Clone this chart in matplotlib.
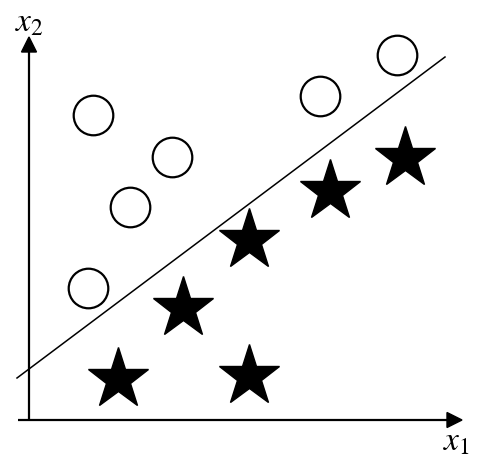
import matplotlib
matplotlib.use("Agg")
import matplotlib.pyplot as plt

# points, in pixel-like units measured from the axes origin
circle_x = [64, 143, 101, 59, 291, 368]
circle_y = [305, 263, 213, 132, 324, 365]
star_x = [89, 220, 154, 220, 301, 376]
star_y = [41, 44, 112, 180, 229, 262]

# separating line y = slope * x + intercept
slope = 0.75
intercept = 51
line_x = [-12, 416]

plt.rcParams['mathtext.fontset'] = 'stix'

fig = plt.figure(figsize=(4.78, 4.59), dpi=100)
ax = fig.add_axes([0, 0, 1, 1])
ax.set_xlim(-29, 449)
ax.set_ylim(-39, 420)
ax.axis('off')

# axes with arrow heads
ax.plot([-11, 420], [0, 0], color='black', lw=1.6, solid_capstyle='butt')
ax.plot([0, 0], [0, 370], color='black', lw=1.6, solid_capstyle='butt')
ax.arrow(418, 0, 15, 0, width=0.1, head_width=15, head_length=15,
         length_includes_head=True, color='black')
ax.arrow(0, 368, 0, 15, width=0.1, head_width=15, head_length=15,
         length_includes_head=True, color='black')

ax.plot(line_x, [slope * x + intercept for x in line_x], color='black', lw=1.1)

ax.plot(circle_x, circle_y, 'o', ms=28.5, mfc='white', mec='black', mew=1.6)
ax.plot(star_x, star_y, '*', ms=46, color='black')

ax.text(0, 398, '$x_2$', fontsize=24, ha='center', va='center')
ax.text(427, -21, '$x_1$', fontsize=24, ha='center', va='center')

fig.savefig('out.png', dpi=100)
